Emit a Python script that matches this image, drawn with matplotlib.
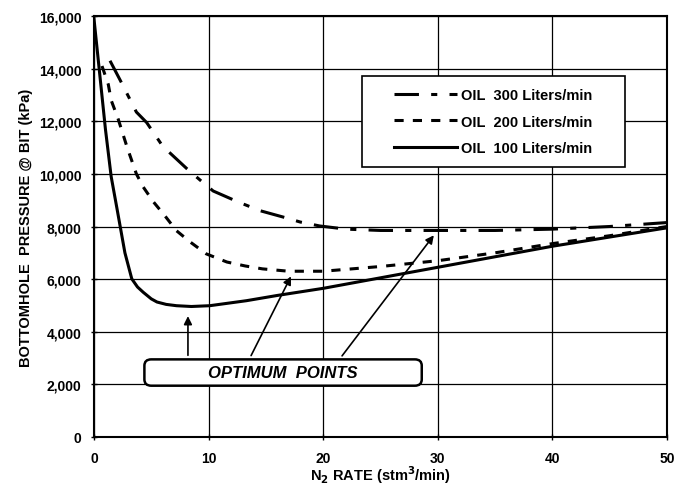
import numpy as np
import matplotlib.pyplot as plt
from matplotlib.patches import FancyBboxPatch, Rectangle

plt.rcParams['font.family'] = ['Liberation Sans', 'DejaVu Sans']
plt.rcParams['font.weight'] = 'bold'

# N2 rate (stm3/min) and bottomhole pressure (kPa)
x_300 = [1.4, 2.3, 3.7, 4.6, 6, 8.1, 9.3, 10.4, 12.6, 14.5, 16.5, 18, 19.7, 22, 25, 30, 35, 40, 45, 50]
p_300 = [14300, 13550, 12350, 11950, 11050, 10200, 9750, 9350, 8930, 8600,
         8360, 8170, 8020, 7900, 7850, 7850, 7850, 7900, 8000, 8150]

x_200 = [0.7, 1.25, 1.5, 2.1, 2.9, 3.7, 4.3, 5.2, 6.2, 7.2, 8.4, 9.8, 11.6, 13.2,
         14.7, 17, 20, 25, 30, 35, 40, 45, 50]
p_200 = [14100, 13400, 12800, 12100, 11000, 10000, 9500, 8930, 8400, 7840, 7410,
         6960, 6650, 6500, 6390, 6300, 6300, 6480, 6700, 7000, 7350, 7650, 8000]

x_100 = [0, 0.5, 1, 1.5, 2, 2.7, 3.3, 3.8, 4.3, 5, 5.5, 6.3, 7.2, 8.5, 10.1, 13.3,
         16, 20, 25, 30, 35, 40, 45, 50]
p_100 = [15900, 13800, 11700, 9900, 8700, 7000, 6010, 5700, 5500, 5250, 5130,
         5040, 4990, 4960, 4990, 5180, 5380, 5650, 6050, 6450, 6850, 7250, 7600, 7950]

labels = ["OIL  300 Liters/min", "OIL  200 Liters/min", "OIL  100 Liters/min"]

fig = plt.figure(figsize=(6.78, 4.89), dpi=100)
ax = fig.add_axes([0.1386, 0.1043, 0.8452, 0.8609])

ax.plot(x_300, p_300, color='black', lw=2.2, dashes=(8, 4, 2, 4), label=labels[0])
ax.plot(x_200, p_200, color='black', lw=2.2, dashes=(3, 3), label=labels[1])
ax.plot(x_100, p_100, color='black', lw=2.2, label=labels[2])

ax.set_xlim(0, 50)
ax.set_ylim(0, 16000)
ax.set_xticks(np.arange(0, 51, 10))
ax.set_yticks(np.arange(0, 16001, 2000))
ax.yaxis.set_major_formatter(plt.FuncFormatter(lambda v, p: f"{int(v):,}"))
ax.grid(True, color='black', lw=0.9)
for s in ax.spines.values():
    s.set_linewidth(1.5)
ax.tick_params(labelsize=10, length=4, width=1, direction='inout')
ax.tick_params(axis='x', pad=8)
ax.tick_params(axis='y', pad=7)

ax.set_xlabel("N$_\\mathbf{2}$ RATE (stm$^\\mathbf{3}$/min)", fontsize=10.5, fontweight='bold', labelpad=-1)
ax.set_ylabel("BOTTOMHOLE  PRESSURE @ BIT (kPa)", fontsize=10.5, fontweight='bold', labelpad=4)

# legend frame drawn by hand so the side padding can be wider than the top padding
ax.add_patch(Rectangle((0.4677, 0.6413), 0.459, 0.2162, transform=ax.transAxes,
                       facecolor='white', edgecolor='black', lw=1.2, zorder=4.5))
leg = ax.legend(loc='center', bbox_to_anchor=(0.697, 0.7494), frameon=False,
                fontsize=10.5, handlelength=4.3, borderpad=0.3, labelspacing=0.85,
                handletextpad=0.3)
leg.set_zorder(5)

# annotation box
box = FancyBboxPatch((4.4, 1950), 24.2, 1000, boxstyle="round,pad=0,rounding_size=0.6",
                     facecolor='white', edgecolor='black', lw=1.8, zorder=5,
                     mutation_aspect=400)
ax.add_patch(box)
ax.text(16.5, 2450, "OPTIMUM  POINTS", fontsize=12, fontweight='bold', style='italic',
        ha='center', va='center', zorder=6)

arrow_starts = [(8.2, 3000), (13.6, 3000), (21.5, 3000)]
arrow_ends = [(8.2, 4700), (17.3, 6200), (29.8, 7750)]
for (sx, sy), (ex, ey) in zip(arrow_starts, arrow_ends):
    ax.annotate("", xy=(ex, ey), xytext=(sx, sy),
                arrowprops=dict(arrowstyle='-|>', color='black', lw=1.2,
                                mutation_scale=12), zorder=6)

fig.savefig("out.png", dpi=100)
